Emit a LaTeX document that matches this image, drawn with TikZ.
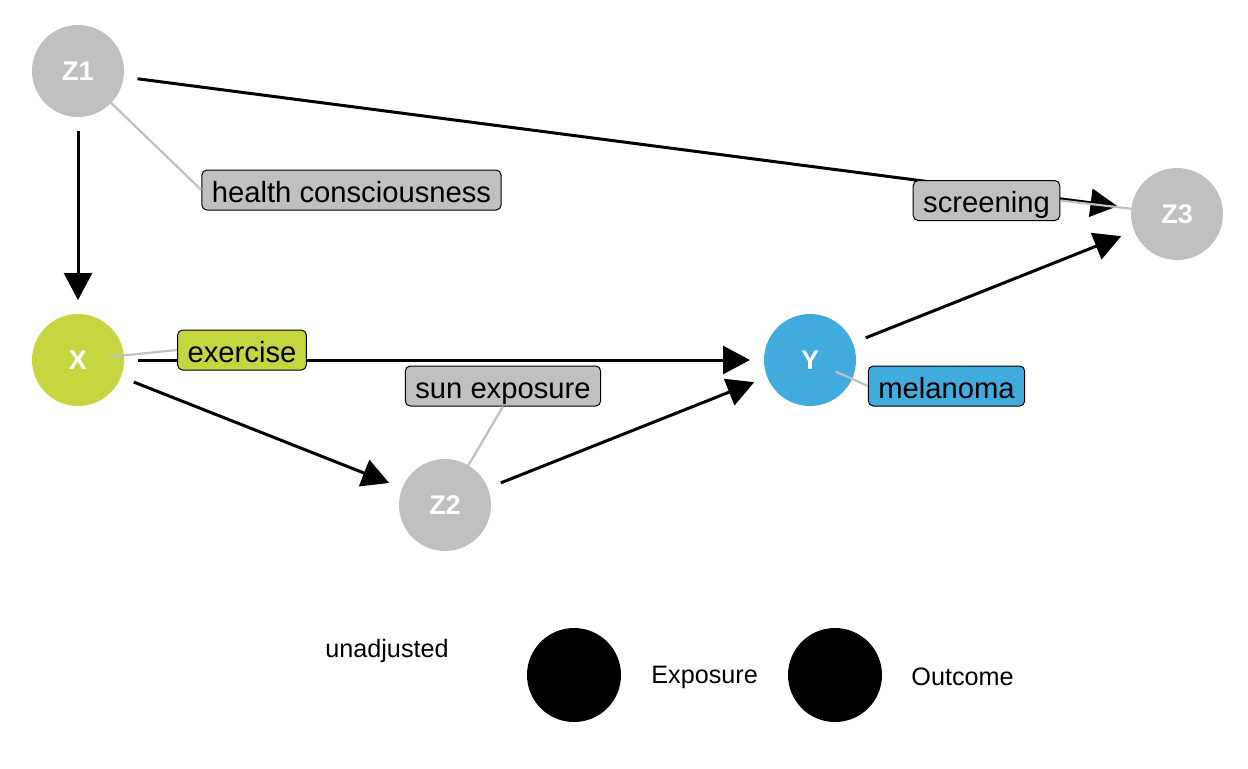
\documentclass[tikz,border=0pt]{standalone}
\usepackage{fontspec}
\setmainfont{Liberation Sans}
\usetikzlibrary{arrows.meta,backgrounds}
\definecolor{dagGrey}{HTML}{C0C0C0}
\definecolor{dagGreen}{HTML}{C5D641}
\definecolor{dagBlue}{HTML}{42ABDD}

\begin{document}
\begin{tikzpicture}[x=0.5pt,y=-0.5pt,
  var/.style={circle,minimum size=46pt,inner sep=0pt,outer sep=7pt,text=white,font=\fontsize{13.5}{16}\selectfont\bfseries},
  lab/.style={draw=black,line width=0.5pt,rounded corners=2.5pt,inner xsep=5pt,inner ysep=0pt,minimum height=20pt,text height=12pt,text depth=0pt,font=\fontsize{14.6}{17}\selectfont},
  edge/.style={line width=1.5pt,-{Triangle[length=13.5pt,width=14pt]}},
  lead/.style={line width=1.1pt,draw=dagGrey},
  legdot/.style={circle,fill=black,minimum size=47pt,inner sep=0pt},
  legtxt/.style={inner sep=0pt,font=\fontsize{12.6}{15}\selectfont}]
\useasboundingbox (0,0) rectangle (1248,768);
% --- variables ---
\begin{scope}[on background layer]
  \foreach \nm/\px/\py/\col in {Z1/78/71/dagGrey,X/78/360/dagGreen,Z2/445/505/dagGrey,Y/810/360/dagBlue,Z3/1177/214/dagGrey}{
     \node[var,fill=\col] (\nm) at (\px,\py) {\nm};}
\end{scope}
% --- causal edges ---
\draw[edge] (Z1) -- (X);
\draw[edge] (Z1) -- (Z3);
\draw[edge] (X) -- (Y);
\draw[edge] (X) -- (Z2);
\draw[edge] (Z2) -- (Y);
\draw[edge] (Y) -- (Z3);
% --- variable labels ---
\node[lab,fill=dagGrey] (hc) at (351.5,190) {health consciousness};
\node[lab,fill=dagGreen] (ex) at (242,350) {exercise};
\node[lab,fill=dagGrey] (sun) at (503,386) {sun exposure};
\node[lab,fill=dagBlue] (mel) at (946.5,386) {melanoma};
\node[lab,fill=dagGrey] (scr) at (986.5,200.5) {screening};
\draw[lead,shorten <=16pt] (Z1.center) -- (hc.west);
\draw[lead,shorten <=16pt] (X.center) -- (ex.west);
\draw[lead,shorten <=16pt] (Z2.center) -- (sun.south);
\draw[lead,shorten <=14pt] (Y.center) -- (mel.west);
\draw[lead,shorten >=15pt] (scr.east) -- (Z3.center);
% --- legend ---
\node[legtxt] (adj) at (387,651) {unadjusted};
\node[legdot] (expDot) at (574,675) {};
\node[legtxt,anchor=west] (expTxt) at (651,677) {Exposure};
\node[legdot] (outDot) at (835,675) {};
\node[legtxt,anchor=west] (outTxt) at (911,677) {Outcome};
\end{tikzpicture}
\end{document}
